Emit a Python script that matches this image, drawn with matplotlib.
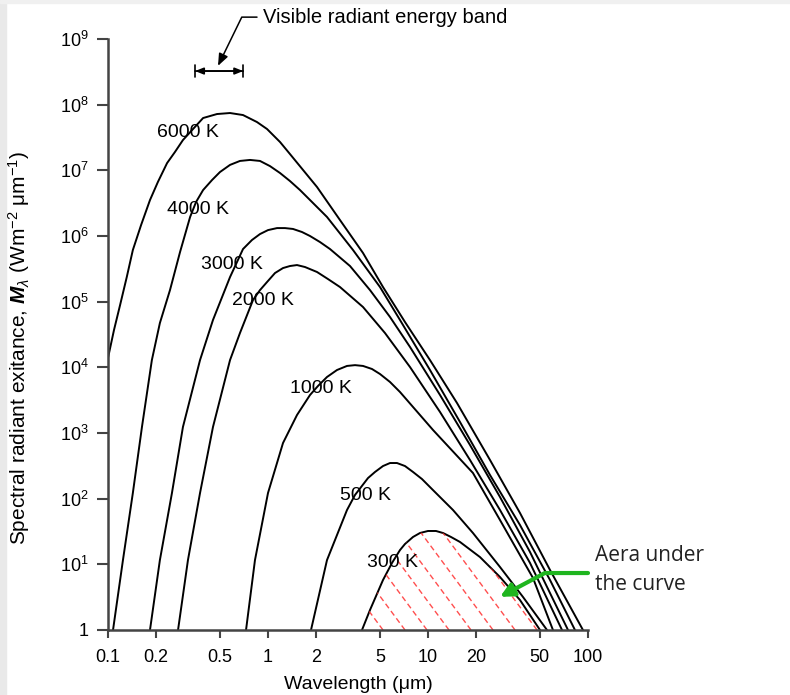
import matplotlib
matplotlib.use("Agg")
import matplotlib.pyplot as plt
from matplotlib.patches import Rectangle

plt.rcParams['font.family'] = ['Liberation Sans', 'DejaVu Sans']
plt.rcParams['mathtext.fontset'] = 'custom'
plt.rcParams['mathtext.rm'] = 'Liberation Sans'
plt.rcParams['mathtext.it'] = 'Liberation Sans:italic'
plt.rcParams['mathtext.bf'] = 'Liberation Sans:bold:italic'

# blackbody curves: wavelength (um), exitance (W m-2 um-1)
wl_6000 = [0.100, 0.109, 0.119, 0.131, 0.143, 0.161, 0.183, 0.205, 0.234, 0.262, 0.294, 0.340,
           0.393, 0.480, 0.579, 0.698, 0.853, 0.986, 1.189, 1.372, 2.025, 2.818, 3.925, 5.233,
           7.181, 10.29, 15.18, 24.41, 37.58, 57.89, 93.0]
m_6000 = [1.39e4, 3.70e4, 8.89e4, 2.37e5, 6.12e5, 1.47e6, 3.53e6, 6.64e6, 1.29e7, 1.90e7, 2.89e7, 4.26e7,
          6.26e7, 7.20e7, 7.46e7, 6.95e7, 5.44e7, 4.26e7, 2.70e7, 1.77e7, 5.57e6, 1.75e6, 5.51e5, 1.67e5,
          4.90e4, 1.29e4, 2862, 388, 60.5, 8.2, 1.0]

wl_4000 = [0.1075, 0.124, 0.143, 0.163, 0.188, 0.211, 0.244, 0.282, 0.326, 0.355, 0.393, 0.447,
           0.501, 0.579, 0.668, 0.772, 0.891, 1.029, 1.189, 1.372, 1.585, 2.337, 3.399, 5.012,
           6.683, 10.29, 15.85, 24.41, 37.58, 57.89, 82.9]
m_4000 = [1.0, 11.6, 122, 1234, 1.29e4, 4.73e4, 1.50e5, 5.70e5, 1.95e6, 3.29e6, 5.01e6, 7.12e6,
          9.42e6, 1.21e7, 1.39e7, 1.44e7, 1.39e7, 1.16e7, 9.10e6, 6.87e6, 5.01e6, 1.95e6, 6.12e5, 1.67e5,
          5.26e4, 9103, 1470, 229, 39.7, 5.77, 1.0]

wl_3000 = [0.183, 0.211, 0.251, 0.294, 0.376, 0.453, 0.579, 0.698, 0.794, 0.891, 1.0, 1.139,
           1.277, 1.433, 1.631, 1.830, 2.113, 2.441, 3.255, 4.341, 5.789, 7.72, 11.89, 18.30,
           28.18, 43.41, 75.0]
m_3000 = [1.0, 11.6, 122, 1234, 1.29e4, 5.26e4, 2.37e5, 6.33e5, 8.69e5, 1.07e6, 1.23e6, 1.32e6,
          1.32e6, 1.28e6, 1.15e6, 1.0e6, 8.09e5, 6.33e5, 3.49e5, 1.50e5, 5.84e4, 2.04e4, 3789, 657,
          106, 15.4, 1.0]

wl_2000 = [0.274, 0.316, 0.376, 0.453, 0.579, 0.668, 0.806, 0.891, 0.986, 1.106, 1.241, 1.372,
           1.518, 1.703, 2.025, 2.371, 2.818, 3.925, 5.385, 7.72, 11.89, 18.30, 28.18, 43.41, 68.8]
m_2000 = [1.0, 11.6, 122, 1234, 1.29e4, 3.33e4, 1.06e5, 1.50e5, 1.99e5, 2.73e5, 3.25e5, 3.49e5,
          3.61e5, 3.37e5, 2.83e5, 2.21e5, 1.67e5, 8.29e4, 3.33e4, 1.01e4, 2088, 388, 67.2, 10.5, 1.0]

wl_1000 = [0.729, 0.829, 1.0, 1.241, 1.518, 1.830, 2.053, 2.337, 2.699, 3.117, 3.499, 3.925,
           4.467, 5.012, 5.789, 6.683, 10.75, 19.10, 28.18, 45.31, 60.4]
m_1000 = [1.0, 11.6, 122, 704, 1879, 3789, 5200, 7122, 9103, 1.05e4, 1.08e4, 1.05e4,
          9430, 7910, 5980, 4210, 1111, 246, 47.3, 6.19, 1.0]

wl_500 = [1.857, 2.337, 3.117, 3.499, 4.217, 4.665, 5.233, 5.789, 6.40, 7.181, 8.06, 9.17,
          10.75, 14.33, 19.10, 28.18, 39.25, 55.44]
m_500 = [1.0, 11.6, 67.2, 114, 206, 255, 314, 349, 349, 314, 255, 199,
         135, 67.2, 30.0, 9.11, 3.18, 1.0]

wl_300 = [3.868, 4.341, 5.233, 5.957, 6.683, 7.181, 8.06, 8.91, 10.0, 11.22, 12.41, 13.92,
          15.85, 21.13, 28.18, 37.58, 50.12]
m_300 = [1.0, 2.02, 5.77, 10.5, 16.5, 20.4, 26.1, 30.0, 32.2, 32.2, 30.0, 26.1,
         21.9, 12.9, 6.41, 2.86, 1.0]

curve_names = ['6000 K', '4000 K', '3000 K', '2000 K', '1000 K', '500 K', '300 K']
curve_wl = [wl_6000, wl_4000, wl_3000, wl_2000, wl_1000, wl_500, wl_300]
curve_m = [m_6000, m_4000, m_3000, m_2000, m_1000, m_500, m_300]
# label centres in axes fraction
label_pos = [(0.167, 0.841), (0.1875, 0.711), (0.258, 0.619), (0.323, 0.557),
             (0.444, 0.408), (0.5375, 0.228), (0.592, 0.115)]

visible_band = [0.35, 0.70]
band_level = 3.25e8

x_ticks = [0.1, 0.2, 0.5, 1, 2, 5, 10, 20, 50, 100]
x_ticklabels = ['0.1', '0.2', '0.5', '1', '2', '5', '10', '20', '50', '100']
y_ticks = [1, 1e1, 1e2, 1e3, 1e4, 1e5, 1e6, 1e7, 1e8, 1e9]
y_ticklabels = ['1'] + [f'$10^{{{i}}}$' for i in range(1, 10)]

fig = plt.figure(figsize=(7.9, 6.95), dpi=100)
fig.patches.append(Rectangle((0, 0), 6 / 790, 1, transform=fig.transFigure,
                             color='#e9e9e9', zorder=-1))
fig.patches.append(Rectangle((0, 1 - 3 / 695), 1, 3 / 695, transform=fig.transFigure,
                             color='#f0f0f0', zorder=-1))
ax = fig.add_axes([108 / 790, 65 / 695, 480 / 790, 591 / 695])

for wl, m in zip(curve_wl, curve_m):
    ax.plot(wl, m, color='black', lw=1.4, solid_joinstyle='round', solid_capstyle='round')

for name, (lx, ly) in zip(curve_names, label_pos):
    ax.text(lx, ly, name, transform=ax.transAxes, ha='center', va='center', fontsize=14)

# dashed red hatching under the 300 K curve
poly = ax.fill_between(wl_300, m_300, 1, facecolor='none', edgecolor='none')
clip = poly.get_paths()[0]
for k in range(-30, 12):
    b = (275 + 22 * k) / 480
    ln, = ax.plot([b, b - 0.912], [0, 1], transform=ax.transAxes, color='#ff3030',
                  lw=1.0, ls=(0, (4, 2.5)), alpha=0.85)
    ln.set_clip_path(clip, poly.get_transform())

# visible band marker
ax.annotate('', xy=(visible_band[0], band_level), xytext=(visible_band[1], band_level),
            arrowprops=dict(arrowstyle='|-|,widthA=0.45,widthB=0.45', lw=1.2,
                            color='black', shrinkA=0, shrinkB=0))
ax.annotate('', xy=(visible_band[0], band_level), xytext=(visible_band[1], band_level),
            arrowprops=dict(arrowstyle='<|-|>,head_length=0.5,head_width=0.2', lw=1.2,
                            color='black', shrinkA=0, shrinkB=0))
ax.annotate('Visible radiant energy band', xy=(0.487, 3.9e8), xytext=(0.322, 1.037),
            textcoords='axes fraction', fontsize=14.5, va='center', ha='left',
            arrowprops=dict(arrowstyle='-|>,head_length=0.5,head_width=0.2', lw=1.1,
                            color='black', shrinkA=2, shrinkB=0,
                            connectionstyle='angle,angleA=0,angleB=64,rad=0'),
            annotation_clip=False)

# green pointer to the area under the curve
ax.annotate('', xy=(28.2, 3.2), xytext=(1.0, 0.0964), textcoords='axes fraction',
            arrowprops=dict(arrowstyle='-|>,head_length=0.8,head_width=0.4', lw=3,
                            color='#1fb51f', shrinkA=0, shrinkB=0,
                            connectionstyle='angle,angleA=0,angleB=28,rad=0'),
            annotation_clip=False)
ax.text(1.015, 0.1015, 'Aera under\nthe curve', transform=ax.transAxes, ha='left',
        va='center', fontsize=15, family=['Open Sans', 'DejaVu Sans'], color='#222222',
        linespacing=1.45, clip_on=False)

ax.set_xscale('log')
ax.set_yscale('log')
ax.set_xlim(0.1, 100)
ax.set_ylim(1, 1e9)
ax.set_xticks(x_ticks)
ax.set_xticklabels(x_ticklabels)
ax.set_yticks(y_ticks)
ax.set_yticklabels(y_ticklabels)
ax.minorticks_off()
ax.tick_params(axis='x', length=6, width=1.5, pad=7.5, labelsize=13, color='#444444')
ax.tick_params(axis='y', length=8, width=1.5, pad=6, labelsize=13, color='#444444')
for side in ['top', 'right']:
    ax.spines[side].set_visible(False)
for side in ['left', 'bottom']:
    ax.spines[side].set_linewidth(1.8)
    ax.spines[side].set_color('#444444')

fig.text(358 / 790, 0.009, 'Wavelength (μm)', ha='center', va='baseline', fontsize=14)
fig.text(0.024, 0.5, r'Spectral radiant exitance, $\mathbf{M}_{\lambda}$ (Wm$^{-2}$ μm$^{-1}$)',
         rotation=90, ha='center', va='center', fontsize=15)

fig.savefig('out.png', dpi=100)
